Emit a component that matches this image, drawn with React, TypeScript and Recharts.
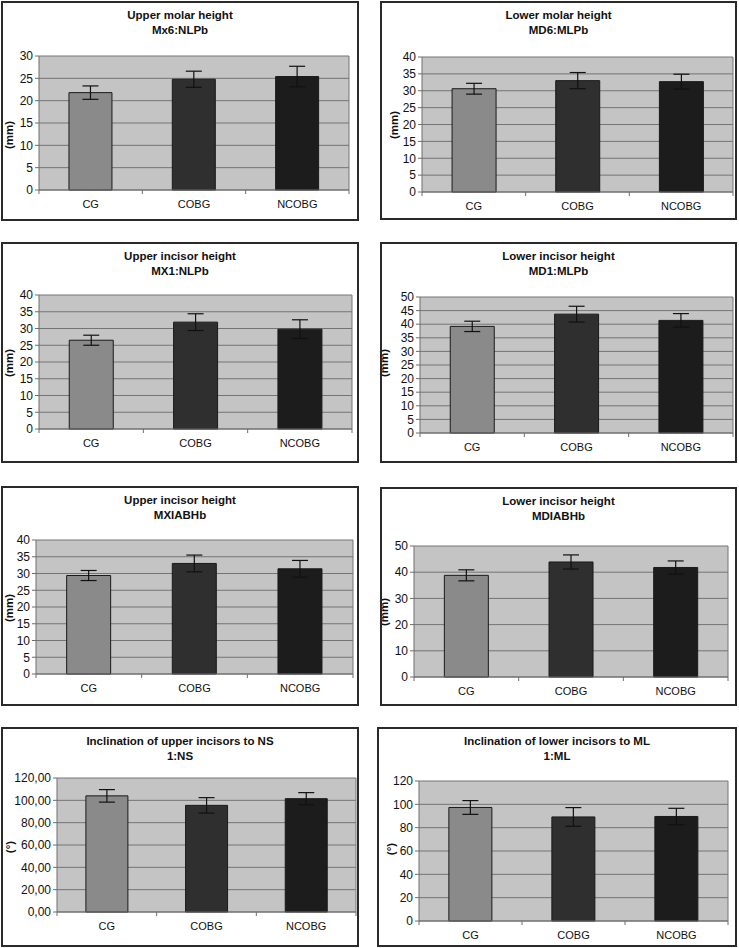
import React from 'react';
import {
  BarChart,
  Bar,
  Cell,
  XAxis,
  YAxis,
  CartesianGrid,
  ErrorBar,
} from 'recharts';

const groups = ['CG', 'COBG', 'NCOBG'];

const upperMolarMean = [21.8, 24.8, 25.4];
const upperMolarSd = [1.5, 1.8, 2.3];
const lowerMolarMean = [30.6, 33.0, 32.7];
const lowerMolarSd = [1.6, 2.4, 2.2];
const upperIncisorMean = [26.5, 31.9, 29.8];
const upperIncisorSd = [1.5, 2.5, 2.8];
const lowerIncisorMean = [39.2, 43.7, 41.4];
const lowerIncisorSd = [1.9, 2.9, 2.5];
const upperAbhMean = [29.4, 33.0, 31.4];
const upperAbhSd = [1.5, 2.5, 2.5];
const lowerAbhMean = [38.8, 43.9, 41.8];
const lowerAbhSd = [2.1, 2.7, 2.5];
const upperInclMean = [104.0, 95.5, 101.5];
const upperInclSd = [5.6, 6.9, 5.4];
const lowerInclMean = [97.3, 89.2, 89.6];
const lowerInclSd = [5.9, 8.0, 7.0];

const titles = [
  ['Upper molar height', 'Mx6:NLPb'],
  ['Lower molar height', 'MD6:MLPb'],
  ['Upper incisor height', 'MX1:NLPb'],
  ['Lower incisor height', 'MD1:MLPb'],
  ['Upper incisor height', 'MXIABHb'],
  ['Lower incisor height', 'MDIABHb'],
  ['Inclination of upper incisors to NS', '1:NS'],
  ['Inclination of lower incisors to ML', '1:ML'],
];

const unitLabels = ['(mm)', '(mm)', '(mm)', '(mm)', '(mm)', '(mm)', '(°)', '(°)'];

const ticks5to30 = [0, 5, 10, 15, 20, 25, 30];
const ticks5to40 = [0, 5, 10, 15, 20, 25, 30, 35, 40];
const ticks5to50 = [0, 5, 10, 15, 20, 25, 30, 35, 40, 45, 50];
const ticks10to50 = [0, 10, 20, 30, 40, 50];
const ticks20to120 = [0, 20, 40, 60, 80, 100, 120];

const seriesList = [
  [upperMolarMean, upperMolarSd, ticks5to30],
  [lowerMolarMean, lowerMolarSd, ticks5to40],
  [upperIncisorMean, upperIncisorSd, ticks5to40],
  [lowerIncisorMean, lowerIncisorSd, ticks5to50],
  [upperAbhMean, upperAbhSd, ticks5to40],
  [lowerAbhMean, lowerAbhSd, ticks10to50],
  [upperInclMean, upperInclSd, ticks20to120],
  [lowerInclMean, lowerInclSd, ticks20to120],
] as const;

// panel box + plot area in page pixels, lx/ly = y-axis title centre
const layout = [
  { x: 1, y: 1, w: 358, h: 220, l: 39, r: 349, t: 56, b: 190, lx: 9, ly: 135 },
  { x: 380, y: 1, w: 357, h: 219, l: 422, r: 733, t: 57, b: 192, lx: 394, ly: 125 },
  { x: 1, y: 242, w: 358, h: 221, l: 39, r: 352, t: 295, b: 429, lx: 9, ly: 363 },
  { x: 380, y: 242, w: 357, h: 221, l: 420, r: 733, t: 297, b: 433, lx: 384, ly: 363 },
  { x: 1, y: 486, w: 358, h: 220, l: 36, r: 353, t: 540, b: 674, lx: 9, ly: 608 },
  { x: 380, y: 487, w: 357, h: 219, l: 414, r: 728, t: 546, b: 677, lx: 384, ly: 612 },
  { x: 1, y: 727, w: 358, h: 220, l: 57, r: 356, t: 778, b: 912, lx: 10, ly: 847 },
  { x: 377, y: 727, w: 360, h: 220, l: 419, r: 728, t: 781, b: 921, lx: 391, ly: 849 },
];

const barColors = ['#8a8a8a', '#2f2f2f', '#1c1c1c'];
const font = '"Liberation Sans", Arial, sans-serif';
const axisGray = '#6e6e6e';

// category label plus Excel-style tick marks on the band edges
function CatTick(props: any) {
  const { x, y, payload, index, band } = props;
  const half = band / 2;
  return (
    <g>
      <line x1={x - half} y1={y} x2={x - half} y2={y + 4} stroke={axisGray} />
      {index === groups.length - 1 && (
        <line x1={x + half} y1={y} x2={x + half} y2={y + 4} stroke={axisGray} />
      )}
      <text
        x={x}
        y={y + 18}
        textAnchor="middle"
        fontSize={11}
        fill="#111"
        fontFamily={font}
      >
        {payload.value}
      </text>
    </g>
  );
}

function Panel({ idx }: { idx: number }) {
  const [mean, sd, ticks] = seriesList[idx];
  const box = layout[idx];
  const data = groups.map((g, i) => ({ group: g, value: mean[i], err: sd[i] }));
  const max = ticks[ticks.length - 1];
  const comma = idx === 6;
  const band = (box.r - box.l) / groups.length;
  const bottom = box.y + box.h - box.b;

  return (
    <div
      style={{
        position: 'absolute',
        left: box.x,
        top: box.y,
        width: box.w,
        height: box.h,
        background: '#fff',
        fontFamily: font,
      }}
    >
      <BarChart
        width={box.w}
        height={box.h}
        data={data}
        barCategoryGap="29%"
        margin={{
          top: box.t - box.y,
          right: box.x + box.w - box.r,
          bottom: 2,
          left: 0,
        }}
      >
        <CartesianGrid
          fill="#c4c4c4"
          fillOpacity={1}
          stroke="#747474"
          strokeWidth={1}
          verticalPoints={[box.r - box.x]}
        />
        <XAxis
          dataKey="group"
          height={bottom - 2}
          interval={0}
          tickLine={false}
          tickSize={0}
          tickMargin={0}
          axisLine={{ stroke: axisGray }}
          tick={<CatTick band={band} />}
        />
        <YAxis
          width={box.l - box.x}
          domain={[0, max]}
          ticks={[...ticks]}
          interval={0}
          tickLine={{ stroke: axisGray }}
          tickSize={4}
          tickMargin={2}
          axisLine={{ stroke: axisGray }}
          tick={{ fontSize: 12, fill: '#111', fontFamily: font }}
          tickFormatter={(v: number) => (comma ? v.toFixed(2).replace('.', ',') : String(v))}
        />
        <Bar dataKey="value" stroke="#1a1a1a" strokeWidth={1} isAnimationActive={false}>
          {data.map((d, i) => (
            <Cell key={d.group} fill={barColors[i]} />
          ))}
          <ErrorBar dataKey="err" width={8} stroke="#111" strokeWidth={1.2} />
        </Bar>
      </BarChart>
      <div
        style={{
          position: 'absolute',
          left: 0,
          top: 7,
          width: box.w,
          textAlign: 'center',
          fontWeight: 'bold',
          fontSize: 11.5,
          lineHeight: '15px',
          color: '#111',
        }}
      >
        <div>{titles[idx][0]}</div>
        <div>{titles[idx][1]}</div>
      </div>
      <div
        style={{
          position: 'absolute',
          left: box.lx - box.x - 40,
          top: box.ly - box.y - 8,
          width: 80,
          height: 16,
          lineHeight: '16px',
          textAlign: 'center',
          fontWeight: 'bold',
          fontSize: 11.5,
          color: '#111',
          transform: 'rotate(-90deg)',
        }}
      >
        {unitLabels[idx]}
      </div>
      <div
        style={{
          position: 'absolute',
          inset: 0,
          border: '2px solid #2a2a2a',
          pointerEvents: 'none',
        }}
      />
    </div>
  );
}

export default function App() {
  return (
    <div
      style={{
        position: 'absolute',
        left: 0,
        top: 0,
        width: 739,
        height: 948,
        background: '#fff',
      }}
    >
      {layout.map((_, i) => (
        <Panel key={i} idx={i} />
      ))}
    </div>
  );
}
